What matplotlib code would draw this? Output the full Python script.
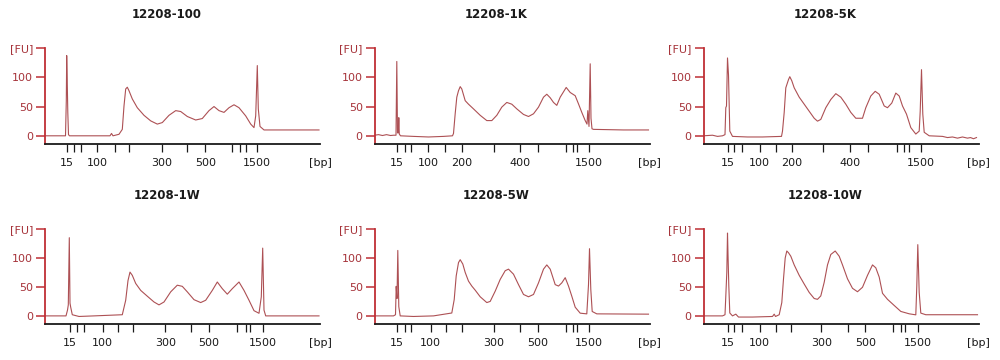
import matplotlib
matplotlib.use("Agg")
import matplotlib.pyplot as plt

plt.rcParams['font.family'] = ['DejaVu Sans']

# ---------------- data ----------------
titles = ["12208-100", "12208-1K", "12208-5K", "12208-1W", "12208-5W", "12208-10W"]

ladder_bp = [15, 25, 50, 100, 150, 200, 300, 400, 500, 700, 850, 1000, 1500]

# migration-time positions of the ladder peaks, per sample
ladder_t_100 = [22.7, 29.7, 36.5, 53.3, 70.5, 85.4, 118.0, 143.0, 161.2, 188.0, 196.0, 201.8, 213.0]
ladder_t_1K = [23.8, 31.3, 37.7, 54.6, 71.7, 88.3, 120.0, 146.3, 164.0, 192.0, 199.2, 203.0, 215.6]
ladder_t_5K = [25.0, 31.7, 39.3, 57.3, 73.3, 89.3, 120.7, 147.3, 165.7, 194.0, 201.7, 206.7, 218.5]
ladder_t_1W = [26.0, 33.3, 40.2, 58.5, 74.2, 89.3, 121.4, 147.3, 165.0, 192.7, 201.7, 206.3, 218.8]
ladder_t_5W = [23.8, 31.3, 37.7, 57.0, 72.0, 88.8, 120.0, 146.3, 164.0, 192.0, 199.2, 203.0, 215.6]
ladder_t_10W = [25.2, 31.8, 39.3, 57.2, 73.2, 88.5, 118.8, 145.8, 162.7, 190.7, 198.8, 202.5, 215.5]

shown_100 = [15, 100, 300, 500, 1500]
shown_1K = [15, 100, 200, 400, 1500]
shown_5K = [15, 100, 200, 400, 1500]
shown_1W = [15, 100, 300, 500, 1500]
shown_5W = [15, 100, 300, 500, 1500]
shown_10W = [15, 100, 300, 500, 1500]

# electropherogram traces: migration time and fluorescence [FU]
t_100 = [1, 20, 21.5, 22.3, 22.7, 23.2, 23.8, 24.5, 25.5, 40, 66, 67.5, 69, 75, 78.3, 80, 81.7,
         83.3, 85, 88.3, 93.3, 100, 106.7, 113.3, 118.3, 125, 131.7, 136.7, 143.3, 151.7, 158.3,
         165, 170, 175, 180, 185, 190, 195, 201.7, 206.7, 210, 211.7, 213.3, 214.3, 216, 220, 250, 275]
fu_100 = [0, 0, 0, 60, 137, 97, 40, 2, 0, 0, 0, 4, 0, 2.6, 11, 51, 80,
          83, 77, 63, 48, 35, 25.5, 20, 22.6, 35, 43, 41.5, 33, 27, 29.5,
          43, 50, 43, 40, 48, 53, 48, 34, 20, 14, 34, 120, 46, 16, 10, 10, 10]

t_1K = [1, 5, 9, 13, 17, 20, 22.5, 23.3, 24, 24.8, 25.3, 25.8, 27, 40, 55, 70, 79, 80, 81.7, 83.3,
        85, 86.7, 88.3, 91.7, 95, 100, 106.7, 113.3, 118.3, 123.3, 128.3, 133.3, 138.3, 143.3,
        150, 155, 160, 165, 170, 173.3, 176.7, 180, 183.3, 186.7, 192.7, 196.7, 201.7, 205,
        208.3, 211.7, 213.5, 214.3, 215.5, 216.7, 217.5, 218.5, 220, 250, 275]
fu_1K = [1, 2, 0.5, 2, 0.5, 1, 1, 127, 5, 5, 31, 3, 0, -1, -2, -1, 0, 4, 38, 66,
         77, 84, 80, 60, 54, 46, 35, 26, 26, 35, 49, 57, 54, 46,
         36.5, 33, 37.6, 49, 66, 71, 65, 57, 52, 66, 82.6, 74, 68.5, 54.5,
         40, 26, 20, 43, 16, 123, 30, 12, 11, 10, 10]

t_5K = [1, 10, 15, 20, 22.5, 23.3, 24, 25, 26, 27.3, 30, 45, 60, 79, 80, 81.7, 83.3, 86, 87.3,
        89.3, 91.7, 96.7, 101.7, 106.7, 111.7, 115, 118.3, 123.3, 128.3, 133.3, 138.3, 143.3,
        148.3, 153.3, 160, 163.3, 168.3, 172.7, 176.7, 181.7, 185, 189.3, 193.3, 196.7, 200,
        204, 208.3, 213.3, 216.7, 217.7, 219, 220.3, 221.7, 226.7, 240, 245, 250, 255, 260,
        265, 268, 271, 274]
fu_5K = [0, 1, -1, 0, 2, 48, 51, 133, 104, 8, -1, -2, -2, -1, 8, 40, 82, 96, 101,
         94, 82, 66, 54, 42, 30, 25, 28, 48, 62, 72, 66, 54,
         40, 30, 30, 48, 68, 76, 71, 51, 48, 56, 73, 68, 51,
         37, 14, 3, 8, 42, 113, 37, 6, 0, -1, -3, -2, -4, -2,
         -4, -3, -5, -3]

t_1W = [1, 22, 23.5, 24.3, 25.3, 26, 26.7, 28.3, 35, 50, 78.3, 81.7, 84, 86, 88.3, 91.7, 96.7,
        103.3, 110, 115, 120, 126.7, 133.3, 138.3, 143.3, 150, 156.7, 161.7, 168.3, 173.3,
        178.3, 183.3, 188.3, 195, 200, 205, 210, 215, 217.3, 218.7, 220, 221.7, 240, 275]
fu_1W = [0, 0, 10, 19, 135, 22, 15, 2, -1, 0, 2, 27, 61, 75.6, 70, 56, 44,
         34, 24, 19, 24, 41.5, 53, 51, 41.5, 28, 23, 27, 44, 58.5,
         47, 37.5, 47, 58.5, 44, 27, 9, 4.5, 33, 117, 10, 0, 0, 0]

t_5W = [1, 20, 22, 22.7, 23.5, 24.3, 25.3, 26.7, 40, 60, 78.3, 80.7, 82.7, 85, 86.7, 89.3,
        91.7, 95, 98.3, 101.7, 106.7, 113.3, 116.7, 121.7, 126.7, 131.7, 135, 140, 145, 150,
        155, 160, 165, 170, 173.3, 176.7, 181.7, 185, 188.3, 191.7, 195, 198.3, 201.7, 206.7,
        213.3, 215, 216, 217.3, 218.7, 223.3, 275]
fu_5W = [0, 0, 2, 51, 30, 113, 16, 0, -1, 0, 5, 28, 69, 92, 97, 89.5,
         75, 60, 51.5, 44.4, 33, 23, 25, 42.7, 63, 78, 80.7, 72, 54, 37,
         33, 37, 57, 80.7, 88, 80.7, 54, 51.5, 57, 66, 51.5, 34, 15, 4.7,
         3.5, 54, 116, 45.6, 7.6, 3.5, 3]

t_10W = [1, 20, 22.5, 23.3, 24.3, 25.0, 25.6, 26.3, 27.3, 30, 33.3, 36, 50, 70, 71.7, 73,
         76.7, 79.3, 81, 82.7, 84.3, 86, 88.3, 91.7, 96.7, 101.7, 106.7, 111.7, 115, 118.3,
         121.7, 125, 128.3, 132.7, 136.7, 140, 145, 150, 155, 160, 165, 170, 173.3, 176.7,
         180, 185, 191.7, 198.3, 206.7, 213.3, 214.3, 215.3, 216.7, 218.3, 223.3, 275]
fu_10W = [0, 0, 2, 34, 75, 143, 100, 52, 5, 0, 3, -2, -2, -1, 3, -1,
          2, 23, 64, 100, 112, 109, 103, 88, 70, 55, 40.5, 30, 28.6, 34.5,
          58, 88, 106, 112, 103, 88, 64, 47.6, 41.7, 49.4, 70, 88, 83, 67,
          39, 28.6, 18, 7.7, 3.6, 1.8, 52, 123, 40.5, 4.8, 2, 2]

traces_t = [t_100, t_1K, t_5K, t_1W, t_5W, t_10W]
traces_fu = [fu_100, fu_1K, fu_5K, fu_1W, fu_5W, fu_10W]
ladders = [ladder_t_100, ladder_t_1K, ladder_t_5K, ladder_t_1W, ladder_t_5W, ladder_t_10W]
shown = [shown_100, shown_1K, shown_5K, shown_1W, shown_5W, shown_10W]

fu_ticks = [0, 50, 100, 150]
fu_ticklabels = ["0", "50", "100", "[FU]"]

# ---------------- style ----------------
W, H = 1000, 360
RED = "#bf2f35"
LBL = "#a6333a"
TRACE = "#ad5054"

fig = plt.figure(figsize=(W / 100, H / 100), dpi=100)

lefts = [45, 374.5, 703.5]
tops = [48, 229]
bottoms = [144, 324]
ax_w = 275

for i in range(6):
    r, c = divmod(i, 3)
    l = lefts[c]
    b = bottoms[r]
    h = b - tops[r]
    ax = fig.add_axes([l / W, 1 - b / H, ax_w / W, h / H])
    ax.plot(traces_t[i], traces_fu[i], color=TRACE, lw=0.8, solid_joinstyle='round')
    ax.set_xlim(1, 276)
    ax.set_ylim(-14, 150)

    for s in ["top", "right"]:
        ax.spines[s].set_visible(False)
    ax.spines["left"].set_color(RED)
    ax.spines["left"].set_linewidth(1.3)
    ax.spines["bottom"].set_color("#1a1a1a")
    ax.spines["bottom"].set_linewidth(1.3)

    ax.set_yticks(fu_ticks)
    ax.set_yticklabels(fu_ticklabels)
    ax.tick_params(axis="y", colors=RED, labelcolor=LBL, length=6.5, width=1.1,
                   pad=2, labelsize=8)

    ax.set_xticks(ladders[i])
    ax.set_xticklabels([str(v) if v in shown[i] else "" for v in ladder_bp])
    ax.tick_params(axis="x", colors="#1a1a1a", length=5.5, width=0.9, pad=4.5,
                   labelsize=8)

    # title and unit label
    fig.text((l + 122) / W, 1 - (15 + r * 180.7) / H, titles[i], ha="center", va="center",
             fontsize=8.5, fontweight="bold", color="#1a1a1a")
    fig.text((l + ax_w) / W, 1 - (163.5 + r * 180) / H, "[bp]", ha="center", va="center",
             fontsize=8, color="#1a1a1a")

fig.savefig("out.png", dpi=100, facecolor="white")
